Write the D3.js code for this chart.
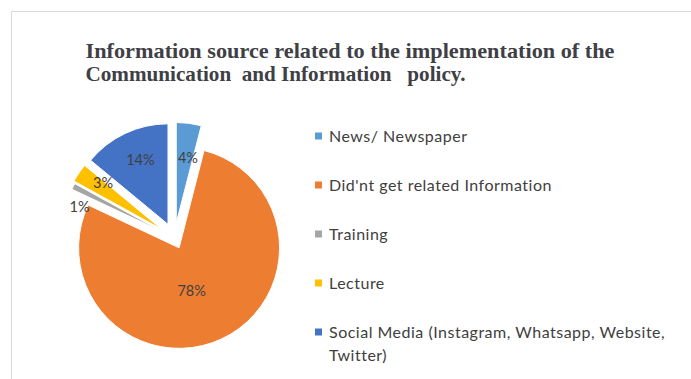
<!DOCTYPE html>
<html>
<head>
<meta charset="utf-8">
<script src="https://cdn.jsdelivr.net/npm/d3@7"></script>
<style>
  body { margin: 0; background: #fff; }
  svg { display: block; }
</style>
</head>
<body>
<svg id="chart" width="691" height="379"></svg>
<script>
// ---- data ----
const categories = [
  "News/ Newspaper",
  "Did'nt get related Information",
  "Training",
  "Lecture",
  "Social Media (Instagram, Whatsapp, Website, Twitter)"
];
const values = [4, 78, 1, 3, 14];
const valueLabels = ["4%", "78%", "1%", "3%", "14%"];
const titleLines = [
  "Information source related to the implementation of the",
  "Communication  and Information   policy."
];

// ---- styling ----
const colors = ["#5B9BD5", "#ED7D31", "#A5A5A5", "#FFC000", "#4472C4"];
const explode = [15, 11, 13, 15, 15];          // radial pull-out of each slice (px)
const labelRadius = [66, 45, 87, 75, 70];      // distance of value label from slice tip
const labelTurn = [3, 9, -10, 4, 2];           // angular nudge of label (degrees)
const cx = 174.4, cy = 237.9, R = 100.5;
const textColor = "#404040";
const uiFont = "Lato, 'Open Sans', sans-serif";

const svg = d3.select("#chart");

// chart frame
svg.append("rect")
  .attr("x", 11.5).attr("y", 11.5)
  .attr("width", 690).attr("height", 420)
  .attr("fill", "#fff").attr("stroke", "#d9d9d9").attr("stroke-width", 1);

// title, two lines in one text block
const titleWidths = [529, 380];
const title = svg.append("text")
  .attr("font-family", "'Liberation Serif', 'Times New Roman', serif")
  .attr("font-weight", "bold").attr("font-size", 21).attr("fill", "#3f3f46")
  .attr("xml:space", "preserve")
  .style("white-space", "pre");
titleLines.forEach((t, i) => {
  title.append("tspan")
    .attr("x", 85.5).attr("y", 57.5 + i * 23.3)
    .attr("textLength", titleWidths[i])
    .attr("lengthAdjust", "spacingAndGlyphs")
    .text(t);
});

// pie
const pie = d3.pie().sort(null).value(d => d)
  .startAngle(0).endAngle(2 * Math.PI);
const arcs = pie(values);
const arc = d3.arc().innerRadius(0).outerRadius(R);

const g = svg.append("g").attr("transform", `translate(${cx},${cy})`);

const tip = (d, i) => {
  const mid = (d.startAngle + d.endAngle) / 2;
  return [Math.sin(mid) * explode[i], -Math.cos(mid) * explode[i]];
};

g.selectAll("path.slice")
  .data(arcs)
  .join("path")
  .attr("class", "slice")
  .attr("d", arc)
  .attr("fill", (d, i) => colors[i])
  .attr("stroke", "#fff")
  .attr("stroke-width", 1)
  .attr("transform", (d, i) => `translate(${tip(d, i)})`);

const labelPos = (d, i) => {
  const a = (d.startAngle + d.endAngle) / 2 + labelTurn[i] * Math.PI / 180;
  const [tx, ty] = tip(d, i);
  return [tx + Math.sin(a) * labelRadius[i], ty - Math.cos(a) * labelRadius[i]];
};

g.selectAll("text.val")
  .data(arcs)
  .join("text")
  .attr("class", "val")
  .attr("x", (d, i) => labelPos(d, i)[0])
  .attr("y", (d, i) => labelPos(d, i)[1])
  .attr("dy", "0.36em")
  .attr("text-anchor", "middle")
  .attr("font-family", uiFont)
  .attr("font-size", 14.5)
  .attr("fill", textColor)
  .text((d, i) => valueLabels[i]);

// legend
const legend = svg.append("g").attr("font-family", uiFont).attr("font-size", 16)
  .attr("letter-spacing", 0.5).attr("fill", textColor);
const legendX = 315, legendTop = 136, legendStep = 49, lineH = 23.5, wrapW = 350;

categories.forEach((c, i) => {
  const y = legendTop + i * legendStep;
  legend.append("rect")
    .attr("x", legendX).attr("y", y - 3.5)
    .attr("width", 7).attr("height", 7)
    .attr("fill", colors[i]);
  const t = legend.append("text");
  // word wrap into lines no wider than wrapW
  const words = c.split(" ");
  let line = [], lineNo = 0;
  let ts = t.append("tspan").attr("x", legendX + 14).attr("y", y).attr("dy", "0.36em");
  words.forEach(w => {
    line.push(w);
    ts.text(line.join(" "));
    if (ts.node().getComputedTextLength() > wrapW && line.length > 1) {
      line.pop();
      ts.text(line.join(" "));
      line = [w];
      lineNo++;
      ts = t.append("tspan").attr("x", legendX + 14).attr("y", y + lineNo * lineH)
        .attr("dy", "0.36em").text(w);
    }
  });
});
</script>
</body>
</html>
